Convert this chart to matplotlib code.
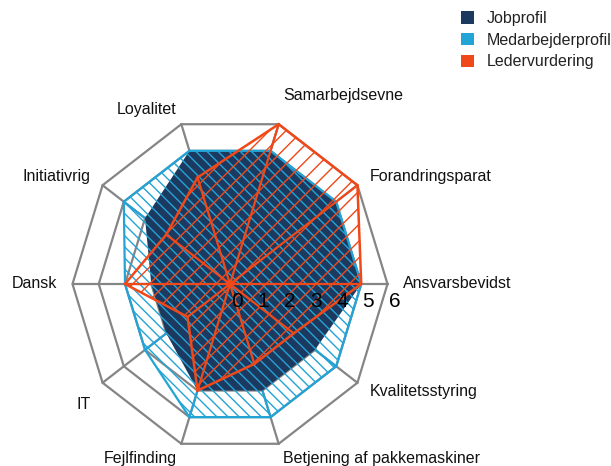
import numpy as np
import matplotlib.pyplot as plt
from matplotlib.patches import Patch

# radar categories, counter-clockwise starting at 3 o'clock
categories = ['Ansvarsbevidst', 'Forandringsparat', 'Samarbejdsevne', 'Loyalitet',
              'Initiativrig', 'Dansk', 'IT', 'Fejlfinding',
              'Betjening af pakkemaskiner', 'Kvalitetsstyring']
jobprofil = [5, 5, 5, 5, 4, 3, 3, 4, 4, 4]
medarbejderprofil = [5, 5, 5, 5, 5, 4, 4, 5, 5, 5]
ledervurdering = [5, 6, 6, 4, 3, 4, 2, 4, 3, 3]
series_names = ['Jobprofil', 'Medarbejderprofil', 'Ledervurdering']
ticks = [0, 1, 2, 3, 4, 5, 6]

NAVY = '#1c3a60'
BLUE = '#22a4d6'
ORANGE = '#f04818'
GRID = '#858585'

plt.rcParams['font.family'] = ['Liberation Sans', 'DejaVu Sans']
plt.rcParams['hatch.linewidth'] = 1.0

n = len(categories)
angles = np.arange(n) * 2 * np.pi / n


def to_xy(vals):
    vals = np.asarray(vals, dtype=float)
    return vals * np.cos(angles), vals * np.sin(angles)


def closed(a):
    return np.append(a, a[0])


fig = plt.figure(figsize=(6.11, 4.66), dpi=100)
ax = fig.add_axes([0, 0, 1, 1])
# centre of the radar sits at (230, 284) px, one unit = 26.25 px across, 28 px up
ax.set_xlim(-230 / 26.25, (611 - 230) / 26.25)
ax.set_ylim((284 - 466) / 28, 284 / 28)
ax.axis('off')

rmax = ticks[-1]

# grid rings and spokes
for r in ticks[1:]:
    gx, gy = to_xy([r] * n)
    ax.plot(closed(gx), closed(gy), color=GRID, lw=1.6, zorder=1)
for a in angles:
    ax.plot([0, rmax * np.cos(a)], [0, rmax * np.sin(a)], color=GRID, lw=1.6, zorder=1)

# Medarbejderprofil spokes sit under the job profile
mx, my = to_xy(medarbejderprofil)
for x, y in zip(mx, my):
    ax.plot([0, x], [0, y], color=BLUE, lw=1.5, zorder=1.5)

# Jobprofil - solid
jx, jy = to_xy(jobprofil)
ax.fill(jx, jy, color=NAVY, lw=0, zorder=2)

# Medarbejderprofil - hatched
ax.fill(mx, my, facecolor='none', edgecolor=BLUE, hatch='\\\\\\', lw=1.6, zorder=3)

# Ledervurdering - hatched with spokes
lx, ly = to_xy(ledervurdering)
ax.fill(lx, ly, facecolor='none', edgecolor=ORANGE, hatch='//', lw=1.8, zorder=4)
for x, y in zip(lx, ly):
    ax.plot([0, x], [0, y], color=ORANGE, lw=1.6, zorder=4)

# category labels
nudge = {'Samarbejdsevne': 0.5, 'IT': -0.45}
for cat, a in zip(categories, angles):
    c = np.cos(a)
    ha = 'left' if c > 0.01 else ('right' if c < -0.01 else 'center')
    ax.text(6.58 * c, 6.55 * np.sin(a) + nudge.get(cat, 0), cat,
            ha=ha, va='center', fontsize=11.5, color='#111111', zorder=6)

# radial tick labels along the first axis
for t in ticks:
    ax.text(t + 0.05, -0.64, str(t), ha='left', va='center', fontsize=15,
            color='black', zorder=6)

handles = [Patch(facecolor=c, edgecolor='none') for c in (NAVY, BLUE, ORANGE)]
ax.legend(handles, series_names, loc='upper left',
          bbox_to_anchor=(461 / 611, 1 - 11 / 466), bbox_transform=fig.transFigure,
          frameon=False, borderpad=0, borderaxespad=0, handlelength=0.8,
          handleheight=0.8, handletextpad=0.8, labelspacing=0.42, fontsize=11.5,
          labelcolor='#222222')

fig.savefig('out.png', dpi=100)
